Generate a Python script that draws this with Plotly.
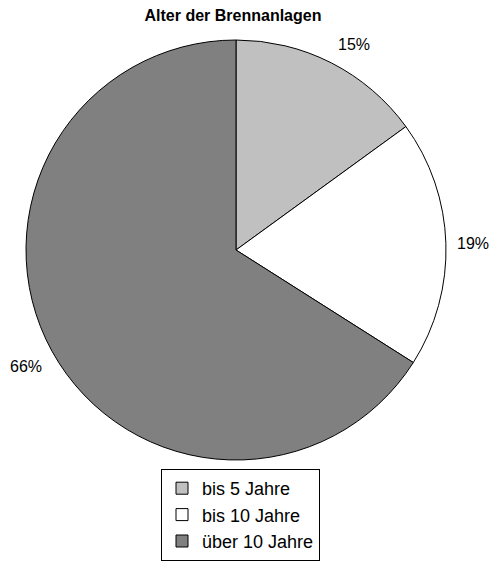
import math
import plotly.graph_objects as go

labels = ["bis 5 Jahre", "bis 10 Jahre", "über 10 Jahre"]
values = [15, 19, 66]
colors = ["#c0c0c0", "#ffffff", "#808080"]

FONT = "Arial, Liberation Sans, sans-serif"
W, H = 491, 563
L, R, T, B = 26, 45, 40, 103
pw, ph = W - L - R, H - T - B

fig = go.Figure(go.Pie(
    labels=labels,
    values=values,
    sort=False,
    direction="clockwise",
    rotation=0,
    marker=dict(colors=colors, line=dict(color="#000000", width=1)),
    textinfo="none",
    hoverinfo="label+percent",
))

# percentage labels just outside each slice; the text corner nearest
# the pie sits on the slice's mid-angle ray
total = sum(values)
cum = 0.0
label_r = 0.522  # in plot-area fractions (pie radius = 0.5)
for v in values:
    mid = (cum + v / 2) / total * 2 * math.pi
    cum += v
    s, c = math.sin(mid), math.cos(mid)
    xa = "left" if s > 0.1 else ("right" if s < -0.1 else "center")
    ya = "bottom" if c > 0.1 else ("top" if c < -0.1 else "middle")
    fig.add_annotation(
        x=0.5 + label_r * s * ph / pw,
        y=0.5 + label_r * c,
        xref="paper", yref="paper",
        text=f"{round(v / total * 100)}%",
        showarrow=False,
        font=dict(family=FONT, size=16, color="#000000"),
        xanchor=xa, yanchor=ya,
    )

fig.update_layout(
    width=W, height=H,
    margin=dict(l=L, r=R, t=T, b=B, autoexpand=False),
    paper_bgcolor="#ffffff",
    plot_bgcolor="#ffffff",
    title=dict(
        text="<b>Alter der Brennanlagen</b>",
        font=dict(family=FONT, size=16, color="#000000"),
        x=233 / W, xanchor="center", y=1 - 15 / H, yanchor="middle",
    ),
    legend=dict(
        font=dict(family=FONT, size=18, color="#000000"),
        bordercolor="#000000", borderwidth=1,
        bgcolor="#ffffff",
        x=(161 - L) / pw, xanchor="left",
        y=-(469 - (H - B)) / ph, yanchor="top",
        itemwidth=30,
        entrywidth=138, entrywidthmode="pixels",
    ),
    showlegend=True,
)

fig.write_html("out.html")
